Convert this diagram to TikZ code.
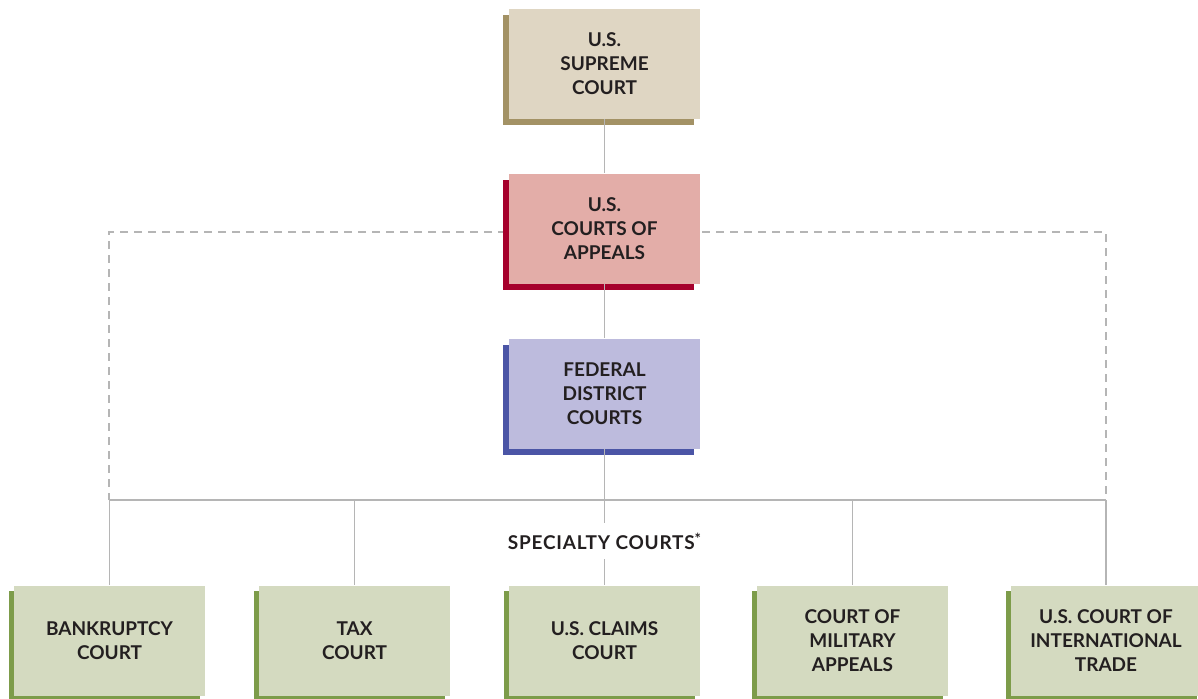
\documentclass[tikz,border=0pt]{standalone}
\usepackage{fontspec}
\setmainfont{Lato}
\usetikzlibrary{shadows}
\definecolor{topface}{HTML}{DFD6C3}
\definecolor{topshadow}{HTML}{A39265}
\definecolor{appface}{HTML}{E3ADA8}
\definecolor{appshadow}{HTML}{A6002C}
\definecolor{distface}{HTML}{BDBBDD}
\definecolor{distshadow}{HTML}{4B55A6}
\definecolor{botface}{HTML}{D4DAC0}
\definecolor{botshadow}{HTML}{7D9C4A}
\definecolor{linegray}{HTML}{B5B5B5}
\definecolor{txt}{HTML}{231F20}
\begin{document}
\begin{tikzpicture}[x=1pt,y=-1pt,
  courtbox/.style={minimum width=191pt,minimum height=110pt,inner sep=0pt,
    align=center,font=\fontsize{19}{24}\selectfont\bfseries,text=txt},
  topbox/.style={courtbox,fill=topface,general shadow={fill=topshadow,shadow xshift=-6pt,shadow yshift=-6pt}},
  appbox/.style={courtbox,fill=appface,general shadow={fill=appshadow,shadow xshift=-6pt,shadow yshift=-6pt}},
  distbox/.style={courtbox,fill=distface,general shadow={fill=distshadow,shadow xshift=-6pt,shadow yshift=-6pt}},
  botbox/.style={courtbox,fill=botface,general shadow={fill=botshadow,shadow xshift=-5pt,shadow yshift=-5pt}},
  conn/.style={draw=linegray,line width=1.2pt},
  dashconn/.style={draw=linegray,line width=1.2pt,dash pattern=on 8pt off 6pt}]
\useasboundingbox (0,0) rectangle (1198,698);
% dashed connectors (behind)
\coordinate (dl) at (109,232);
\coordinate (dr) at (1106,232);
\coordinate (hl) at (109,500);
\coordinate (hr) at (1106,500);
\draw[dashconn] (604,232) -- (dl) -- (hl);
\draw[dashconn] (604,232) -- (dr) -- (hr);
% boxes
\node[topbox] (sup) at (604.5,64) {U.S.\\SUPREME\\COURT};
\node[appbox] (app) at (604.5,228.5) {U.S.\\COURTS OF\\APPEALS};
\node[distbox] (dist) at (604.5,393.5) {FEDERAL\\DISTRICT\\COURTS};
\node[botbox] (bank) at (109.5,640.5) {BANKRUPTCY\\COURT};
\node[botbox] (tax) at (354.5,640.5) {TAX\\COURT};
\node[botbox] (claims) at (604.5,640.5) {U.S. CLAIMS\\COURT};
\node[botbox] (mil) at (852.5,640.5) {COURT OF\\MILITARY\\APPEALS};
\node[botbox] (intl) at (1106,640.5) {U.S. COURT OF\\INTERNATIONAL\\TRADE};
\node[font=\fontsize{19}{22}\selectfont\bfseries\addfontfeatures{LetterSpace=4},text=txt,inner xsep=2pt,inner ysep=10pt] (spec) at (604.5,541) {SPECIALTY COURTS\raisebox{5pt}{\fontsize{15}{15}\selectfont *}};
% solid connectors
\draw[conn] (sup.south) -- (app.north);
\draw[conn] (app.south) -- (dist.north);
\draw[conn] (dist.south) -- (spec.north);
\draw[conn] (spec.south) -- (claims.north);
\draw[conn] (bank.north |- hl) -- (intl.north |- hr);
\draw[conn] (bank.north |- hl) -- (bank.north);
\draw[conn] (tax.north |- hl) -- (tax.north);
\draw[conn] (mil.north |- hl) -- (mil.north);
\draw[conn] (intl.north |- hr) -- (intl.north);
\end{tikzpicture}
\end{document}
